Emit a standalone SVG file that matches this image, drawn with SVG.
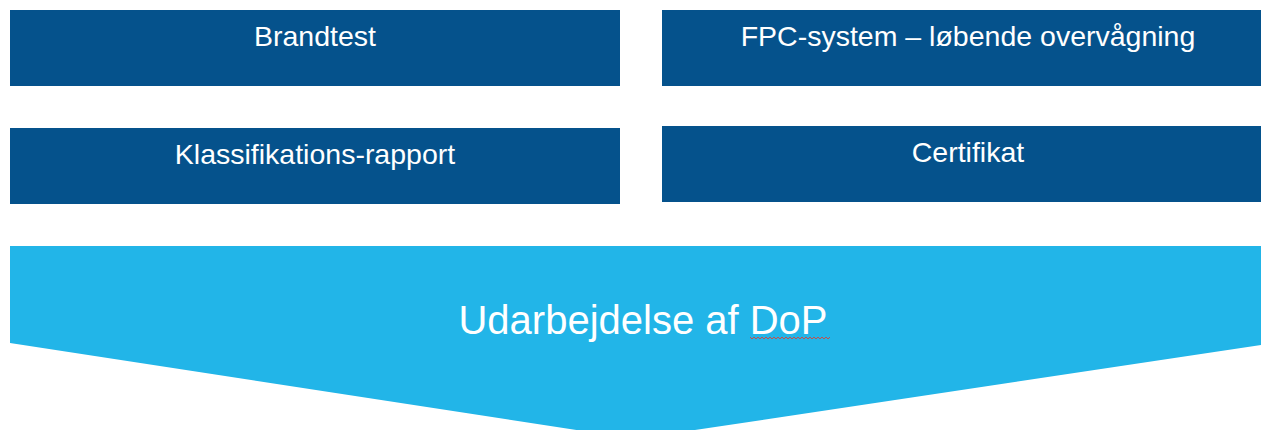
<svg xmlns="http://www.w3.org/2000/svg" width="1261" height="430" viewBox="0 0 1261 430">
<style>
.box{fill:#05528C}
.lbl{font-family:"Liberation Sans",Arial,sans-serif;font-size:28.5px;fill:#FFFFFF;text-anchor:middle}
.big{font-family:"Liberation Sans",Arial,sans-serif;font-size:40px;fill:#FFFFFF;text-anchor:middle}
</style>
<rect width="1261" height="430" fill="#FFFFFF"/>
<g id="brandtest"><rect class="box" x="10" y="10" width="610" height="76"/><text class="lbl" x="315" y="46">Brandtest</text></g>
<g id="fpc"><rect class="box" x="662" y="10" width="599" height="76"/><text class="lbl" x="968" y="46">FPC-system – løbende overvågning</text></g>
<g id="klassifikation"><rect class="box" x="10" y="128" width="610" height="76"/><text class="lbl" x="315" y="164">Klassifikations-rapport</text></g>
<g id="certifikat"><rect class="box" x="662" y="126" width="599" height="76"/><text class="lbl" x="968" y="162">Certifikat</text></g>
<g id="dop"><polygon points="10,246 1261,246 1261,345 635,439 10,343" fill="#22B5E8"/><text class="big" x="643" y="334">Udarbejdelse af DoP</text>
<path d="M750,337 l2,2 2,-2 2,2 2,-2 2,2 2,-2 2,2 2,-2 2,2 2,-2 2,2 2,-2 2,2 2,-2 2,2 2,-2 2,2 2,-2 2,2 2,-2 2,2 2,-2 2,2 2,-2 2,2 2,-2 2,2 2,-2 2,2 2,-2 2,2 2,-2 2,2 2,-2 2,2 2,-2 2,2 2,-2 2,2 2,-2" fill="none" stroke="#C0504D" stroke-width="1"/></g>
<g id="connectors"></g>
</svg>
